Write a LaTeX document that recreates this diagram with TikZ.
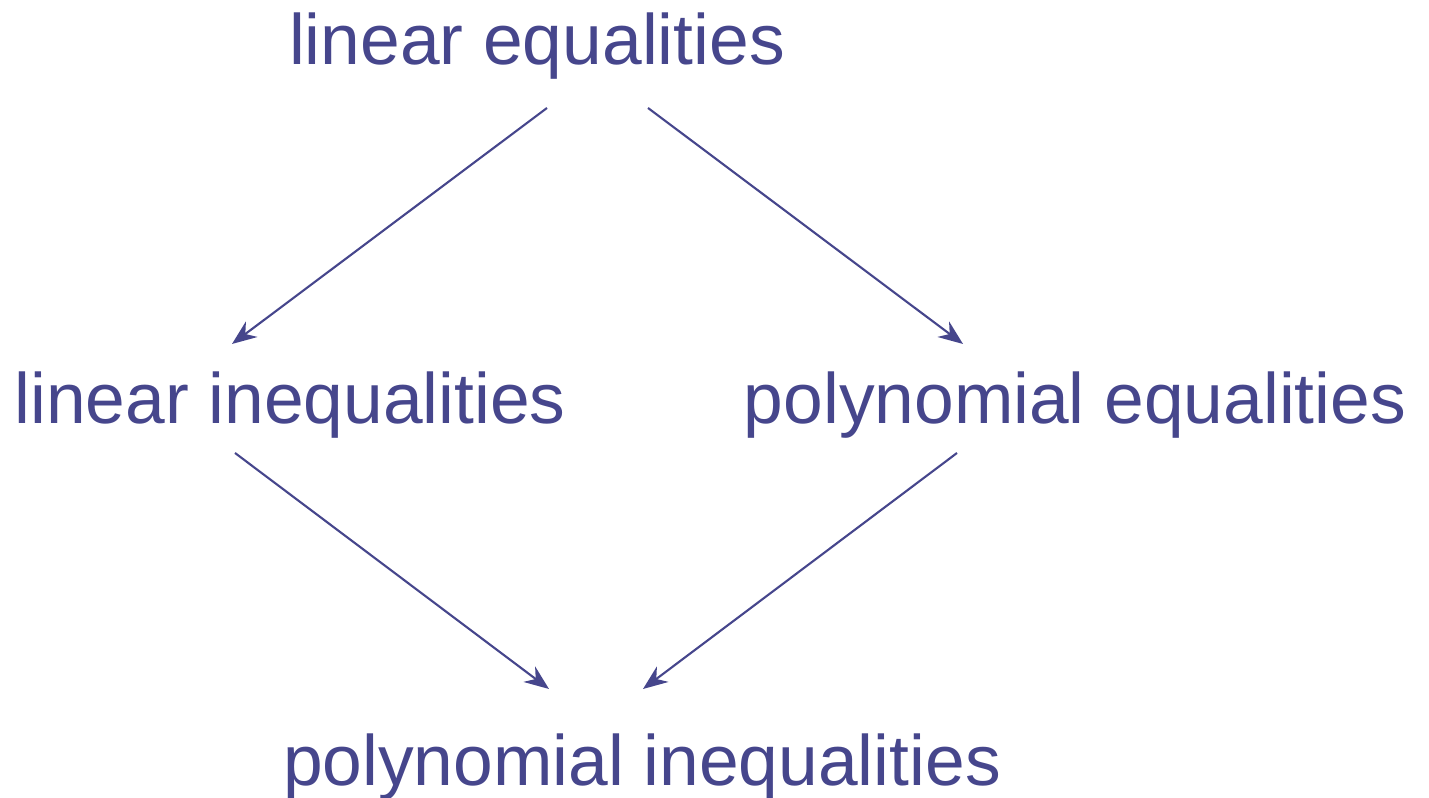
\documentclass[tikz,border=0pt]{standalone}
\usepackage{fontspec}
\setmainfont{Liberation Sans}
\usetikzlibrary{arrows.meta,positioning}
\definecolor{dgblue}{RGB}{70,70,140}

\begin{document}
\begin{tikzpicture}[
    lbl/.style={dgblue,font=\fontsize{20.3pt}{24pt}\selectfont,inner sep=0pt,anchor=base},
    impl/.style={dgblue,line width=0.6pt,-{Stealth[length=7pt,width=5.5pt]}}
  ]
      \useasboundingbox (0,0) rectangle (14.29,7.98);
      % Problem classes
      \node[lbl] (le) at (5.37,7.33) {linear equalities};
      \node[lbl] (li) at (2.90,3.74) {linear inequalities};
      \node[lbl] (pe) at (10.75,3.74) {polynomial equalities};
      \node[lbl] (pi) at (6.42,0.12) {polynomial inequalities};
      % Generalisations
      \draw[impl] ([shift={(0.10,-0.43)}]le.base) -- ([shift={(-0.58,0.80)}]li.base);
      \draw[impl] ([shift={(1.11,-0.43)}]le.base) -- ([shift={(-1.12,0.80)}]pe.base);
      \draw[impl] ([shift={(-0.55,-0.29)}]li.base) -- ([shift={(-0.93,0.97)}]pi.base);
      \draw[impl] ([shift={(-1.18,-0.29)}]pe.base) -- ([shift={(0.01,0.97)}]pi.base);
    \end{tikzpicture}
\end{document}
